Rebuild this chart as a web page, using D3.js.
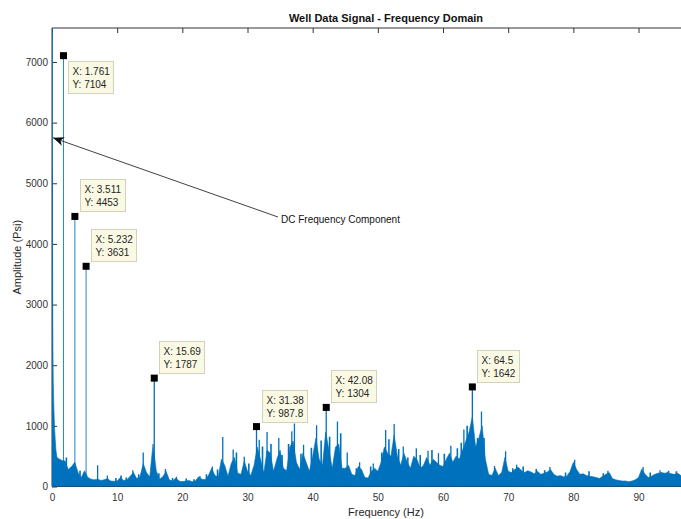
<!DOCTYPE html>
<html lang="en">
<head>
<meta charset="UTF-8">
<title>Well Data Signal - Frequency Domain</title>
<style>
  body { margin: 0; background: #fff; }
  text { font-family: Arial, "Liberation Sans", sans-serif; }
</style>
</head>
<body>
<div id="container"></div>
<script src="https://cdn.jsdelivr.net/npm/d3@7"></script>
<script>
    const xTicks = [0, 10, 20, 30, 40, 50, 60, 70, 80, 90]
    const yTicks = [0, 1000, 2000, 3000, 4000, 5000, 6000, 7000]

    // amplitude right after the DC bin (0 - 1 Hz)
    const lowBandHz = [0.04, 0.08, 0.12, 0.16, 0.2, 0.3, 0.4, 0.5, 0.6, 0.75, 0.9]
    const lowBandAmp = [5230, 4100, 2700, 2100, 1700, 1250, 950, 770, 600, 490, 460]

    // spectrum envelope from 1 Hz on, read every 0.5 Hz
    const bandStartHz = 1
    const bandStepHz = 0.5
    const bandAmp = [
        460, 430, 420, 280, 330, 400, 230, 150, 260, 150,          // 1 - 5.5
        120, 110, 120, 100, 110, 130, 90, 85, 90, 150,             // 6 - 10.5
        100, 110, 170, 230, 130, 160, 380, 230, 160, 700,          // 11 - 15.5
        260, 120, 160, 250, 110, 90, 140, 90, 80, 90,              // 16 - 20.5
        100, 80, 90, 160, 120, 110, 180, 300, 180, 160,            // 21 - 25.5
        450, 350, 170, 380, 480, 220, 200, 420, 250, 180,          // 26 - 30.5
        350, 650, 450, 220, 600, 550, 250, 450, 600, 300,          // 31 - 35.5
        260, 650, 750, 400, 280, 550, 400, 250, 500, 800,          // 36 - 40.5
        450, 350, 900, 600, 300, 650, 700, 300, 300, 350,          // 41 - 45.5
        200, 180, 330, 280, 150, 140, 250, 300, 250, 400,          // 46 - 50.5
        650, 550, 500, 850, 500, 350, 550, 400, 300, 500,          // 51 - 55.5
        450, 300, 350, 480, 350, 450, 400, 350, 330, 450,          // 56 - 60.5
        550, 400, 500, 450, 600, 750, 900, 1150, 650, 800,         // 61 - 65.5
        1000, 450, 200, 180, 300, 180, 230, 480, 250, 230,         // 66 - 70.5
        280, 320, 270, 230, 260, 240, 210, 250, 200, 220,          // 71 - 75.5
        240, 280, 200, 170, 180, 160, 170, 250, 400, 280,          // 76 - 80.5
        200, 210, 180, 170, 160, 150, 130, 170, 200, 230,          // 81 - 85.5
        130, 110, 100, 90, 90, 80, 90, 110, 150, 290,              // 86 - 90.5
        200, 150, 170, 200, 220, 230, 220, 230, 210, 200,          // 91 - 95.5
        220, 180, 190, 180, 170, 190, 180, 170, 180, 175           // 96 - 100.5
    ]

    // sharp narrow peaks standing above the envelope
    const spikeHz = [0, 1.761, 3.511, 5.232, 7.0, 8.5, 12.4, 14.0, 15.69, 17.4, 19.1, 22.7,
        24.6, 26.2, 27.8, 29.5, 31.38, 31.8, 33.0, 34.8, 36.8, 37.2, 38.6, 40.6, 42.08,
        43.8, 45.3, 47.2, 49.3, 51.2, 52.5, 53.9, 55.9, 57.7, 59.3, 61.2, 63.2, 64.5,
        65.9, 67.9, 69.6, 71.3, 76.4, 80.2, 85.3, 90.7, 93.3]
    const spikeAmp = [7800, 7104, 4453, 3631, 350, 180, 270, 560, 1787, 290, 160, 175,
        330, 815, 610, 490, 987.8, 770, 900, 800, 910, 1040, 690, 1010, 1304,
        1070, 560, 400, 380, 930, 1030, 660, 630, 590, 550, 670, 940, 1642,
        1235, 340, 580, 360, 320, 440, 260, 320, 270]

    // smaller spikes that give the spectrum its ragged top
    const minorHz = [2.2, 4.3, 9.8, 10.6, 11.4, 13.3, 16.4, 18.5, 20.6, 21.8, 23.7, 25.4,
        28.3, 30.2, 32.3, 33.6, 35.3, 36.3, 38.2, 39.8, 41.3, 42.6, 44.3, 46.7, 48.9,
        50.6, 51.7, 53.2, 54.6, 56.5, 58.3, 60.2, 62.2, 62.8, 63.7, 65.3, 66.3,
        70.7, 72.3, 74.3, 75.6, 78.8, 82.4, 84.6, 91.8, 94.6, 95.8]
    const minorAmp = [480, 260, 140, 180, 150, 200, 220, 140, 130, 120, 200, 280,
        560, 380, 660, 700, 520, 700, 540, 640, 760, 820, 880, 300, 330,
        560, 780, 620, 480, 520, 600, 540, 630, 720, 1000, 800, 800,
        300, 330, 290, 270, 230, 250, 220, 230, 260, 250]

    // data tips
    const tipHz = [1.761, 3.511, 5.232, 15.69, 31.38, 42.08, 64.5]
    const tipAmp = [7104, 4453, 3631, 1787, 987.8, 1304, 1642]
    const tipBelow = [true, false, false, false, false, false, false]

    const width = 681
    const height = 519
    const marginLeft = 52
    const marginTop = 28
    const plotBottom = 486.5
    const plotRight = 720

    const lineColor = '#0072BD'
    const axisColor = '#333333'

    const x = d3.scaleLinear().domain([0, 102.5]).range([marginLeft, plotRight])
    const y = d3.scaleLinear().domain([0, 7560]).range([plotBottom, marginTop])

    const svg = d3.select('#container').append('svg')
        .attr('width', width)
        .attr('height', height)

    const defs = svg.append('defs')
    defs.append('clipPath')
        .attr('id', 'plot-clip')
        .append('rect')
        .attr('x', marginLeft)
        .attr('y', marginTop)
        .attr('width', plotRight - marginLeft)
        .attr('height', plotBottom - marginTop)
    defs.append('marker')
        .attr('id', 'arrow-head')
        .attr('viewBox', '0 -5 12 10')
        .attr('refX', 11)
        .attr('refY', 0)
        .attr('markerWidth', 12)
        .attr('markerHeight', 10)
        .attr('markerUnits', 'userSpaceOnUse')
        .attr('orient', 'auto')
        .append('path')
        .attr('d', 'M0,-4.5L11,0L0,4.5L3,0Z')
        .attr('fill', '#111')

    /* Axes */

    const axes = svg.append('g').attr('id', 'axes')

    axes.append('g')
        .attr('transform', `translate(0,${plotBottom})`)
        .call(d3.axisBottom(x).tickValues(xTicks).tickSizeInner(-5).tickSizeOuter(0).tickPadding(7))
    axes.append('g')
        .attr('transform', `translate(0,${marginTop})`)
        .call(d3.axisTop(x).tickValues(xTicks).tickSizeInner(-5).tickSizeOuter(0).tickFormat(''))
    axes.append('g')
        .attr('transform', `translate(${marginLeft},0)`)
        .call(d3.axisLeft(y).tickValues(yTicks).tickSizeInner(-5).tickSizeOuter(0).tickPadding(4)
            .tickFormat(d3.format('d')))

    axes.selectAll('.domain').remove()
    axes.selectAll('.tick line').attr('stroke', axisColor)
    axes.selectAll('.tick text')
        .attr('fill', axisColor)
        .attr('font-size', '10px')
        .attr('font-family', 'Arial, "Liberation Sans", sans-serif')

    axes.append('line')
        .attr('x1', marginLeft).attr('x2', width)
        .attr('y1', marginTop).attr('y2', marginTop)
        .attr('stroke', axisColor)
    axes.append('line')
        .attr('x1', marginLeft).attr('x2', width)
        .attr('y1', plotBottom).attr('y2', plotBottom)
        .attr('stroke', axisColor)
    axes.append('line')
        .attr('x1', marginLeft).attr('x2', marginLeft)
        .attr('y1', marginTop).attr('y2', plotBottom)
        .attr('stroke', axisColor)

    /* Spectrum */

    const spectrum = lowBandHz.map((f, i) => [f, lowBandAmp[i]])
        .concat(bandAmp.map((a, i) => [bandStartHz + i * bandStepHz, a]))
    spectrum.unshift([0.005, 0])

    const plot = svg.append('g').attr('clip-path', 'url(#plot-clip)')

    plot.append('path')
        .datum(spectrum)
        .attr('fill', lineColor)
        .attr('stroke', lineColor)
        .attr('stroke-width', 0.6)
        .attr('d', d3.area().x(d => x(d[0])).y0(y(0)).y1(d => y(d[1])))

    const minor = minorHz.map((f, i) => ({f: f, a: minorAmp[i]}))
    plot.append('g')
        .selectAll('line')
        .data(minor)
        .enter()
        .append('line')
        .attr('x1', d => x(d.f))
        .attr('x2', d => x(d.f))
        .attr('y1', y(0))
        .attr('y2', d => y(d.a))
        .attr('stroke', lineColor)
        .attr('stroke-width', 1.6)

    const spikes = spikeHz.map((f, i) => ({f: f, a: spikeAmp[i]}))
    plot.append('g')
        .selectAll('line')
        .data(spikes)
        .enter()
        .append('line')
        .attr('x1', d => x(d.f) + (d.f === 0 ? 0.5 : 0))
        .attr('x2', d => x(d.f) + (d.f === 0 ? 0.5 : 0))
        .attr('y1', y(0))
        .attr('y2', d => y(d.a))
        .attr('stroke', lineColor)
        .attr('stroke-width', d => d.a > 3000 ? 1 : 1.3)
        .attr('stroke-opacity', d => d.a > 3000 ? 0.85 : 1)

    /* Data tips */

    const tips = tipHz.map((f, i) => ({f: f, a: tipAmp[i], below: tipBelow[i]}))
    const fmt = d3.format('.4~g')
    const tipG = svg.append('g').attr('id', 'data-tips')

    tips.forEach(t => {
        const mx = x(t.f)
        const my = y(t.a)
        tipG.append('rect')
            .attr('x', mx - 3.5)
            .attr('y', my - 3.5)
            .attr('width', 7)
            .attr('height', 7)
            .attr('fill', '#000')

        const g = tipG.append('g')
        const box = g.append('rect')
            .attr('fill', '#fafae4')
            .attr('stroke', '#d2d2bc')
            .attr('stroke-width', 1)
        const lines = ['X: ' + fmt(t.f), 'Y: ' + fmt(t.a)]
        const texts = g.selectAll('text')
            .data(lines)
            .enter()
            .append('text')
            .attr('x', 4)
            .attr('y', (d, i) => 13 + i * 13)
            .attr('font-size', '10px')
            .attr('fill', '#262626')
            .text(d => d)
        let w = 0
        texts.each(function () { w = Math.max(w, this.getComputedTextLength()) })
        const bw = Math.round(w + 8)
        const bh = 32
        box.attr('x', 0).attr('y', 0).attr('width', bw).attr('height', bh)
        const bx = Math.round(mx + 5) + 0.5
        const by = t.below ? Math.round(my + 5) + 0.5 : Math.round(my - 5 - bh) + 0.5
        g.attr('transform', `translate(${bx},${by})`)
    })

    /* Annotation arrow */

    svg.append('line')
        .attr('x1', 278)
        .attr('y1', 217)
        .attr('x2', x(0) + 1)
        .attr('y2', y(5750))
        .attr('stroke', '#111')
        .attr('stroke-width', 0.8)
        .attr('marker-end', 'url(#arrow-head)')
    svg.append('text')
        .attr('x', 281)
        .attr('y', 222.5)
        .attr('font-size', '10px')
        .attr('fill', '#111')
        .text('DC Frequency Component')

    /* Titles */

    const centerX = (marginLeft + plotRight) / 2
    svg.append('text')
        .attr('x', centerX)
        .attr('y', 22)
        .attr('text-anchor', 'middle')
        .attr('font-size', '11px')
        .attr('font-weight', 'bold')
        .attr('fill', '#111')
        .text('Well Data Signal - Frequency Domain')
    svg.append('text')
        .attr('x', centerX)
        .attr('y', 516)
        .attr('text-anchor', 'middle')
        .attr('font-size', '11px')
        .attr('fill', '#262626')
        .text('Frequency (Hz)')
    svg.append('text')
        .attr('transform', `translate(21,${(marginTop + plotBottom) / 2}) rotate(-90)`)
        .attr('text-anchor', 'middle')
        .attr('font-size', '11px')
        .attr('fill', '#262626')
        .text('Amplitude (Psi)')
</script>
</body>
</html>
